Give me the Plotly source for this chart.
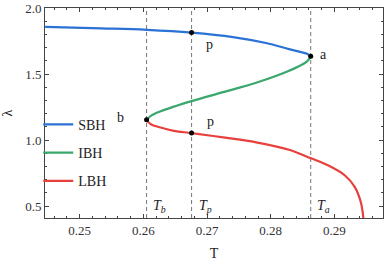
import plotly.graph_objects as go

# ---- data ----
sbh_T = [0.24457, 0.25341, 0.26054, 0.26757, 0.27408, 0.27926, 0.28287, 0.28493, 0.28571, 0.28628]
sbh_L = [1.857, 1.846, 1.835, 1.814, 1.780, 1.735, 1.689, 1.664, 1.654, 1.634]

ibh_T = [0.26050, 0.26116, 0.26220, 0.26478, 0.26757, 0.27253, 0.27771, 0.28183, 0.28442, 0.28571, 0.28628]
ibh_L = [1.153, 1.183, 1.208, 1.253, 1.295, 1.363, 1.434, 1.504, 1.559, 1.596, 1.634]

lbh_T = [0.26050, 0.26116, 0.26271, 0.26478, 0.26757, 0.27253, 0.27771, 0.28287, 0.28633,
         0.28907, 0.29166, 0.29321, 0.29414, 0.29457]
lbh_L = [1.153, 1.120, 1.095, 1.070, 1.053, 1.020, 0.983, 0.927, 0.862,
         0.807, 0.732, 0.644, 0.531, 0.400]

marker_T = [0.28628, 0.26050, 0.26757, 0.26757]
marker_L = [1.634, 1.153, 1.814, 1.053]
marker_names = ["a", "b", "p", "p"]

critical_T = [0.26050, 0.26757, 0.28628]
critical_names = ["<i>T</i><sub><i>b</i></sub>", "<i>T</i><sub><i>p</i></sub>", "<i>T</i><sub><i>a</i></sub>"]

x_range = [0.24455, 0.29763]
y_range = [0.41, 2.0]

BLUE = "#2a72d4"
GREEN = "#3aa86c"
RED = "#e8403c"
FONT = "Liberation Serif, Times New Roman, Times, serif"

fig = go.Figure()
fig.add_trace(go.Scatter(x=sbh_T, y=sbh_L, mode="lines", name="SBH", legendgroup="s",
                         line=dict(color=BLUE, width=2.2, shape="spline", smoothing=1.0)))
fig.add_trace(go.Scatter(x=ibh_T, y=ibh_L, mode="lines", name="IBH", legendgroup="i",
                         line=dict(color=GREEN, width=2.2, shape="spline", smoothing=1.0)))
fig.add_trace(go.Scatter(x=lbh_T, y=lbh_L, mode="lines", name="LBH", legendgroup="l",
                         line=dict(color=RED, width=2.2, shape="spline", smoothing=1.0)))
fig.add_trace(go.Scatter(x=marker_T, y=marker_L, mode="markers", showlegend=False,
                         marker=dict(color="black", size=5)))

for t in critical_T:
    fig.add_shape(type="line", xref="x", yref="paper", x0=t, x1=t, y0=0, y1=1,
                  line=dict(color="#777777", width=1, dash="4px,3px"), layer="below")

# point labels
label_pos = [(0.28829, 1.647), (0.25636, 1.173), (0.27031, 1.722), (0.27047, 1.143)]
for name, (lx, ly) in zip(marker_names, label_pos):
    fig.add_annotation(x=lx, y=ly, text=name, showarrow=False,
                       font=dict(family=FONT, size=14, color="#222"))

crit_label_x = [0.26256, 0.26969, 0.28829]
for name, lx in zip(critical_names, crit_label_x):
    fig.add_annotation(x=lx, y=0.50, text=name, showarrow=False,
                       font=dict(family=FONT, size=14, color="#222"))

axis_common = dict(showline=True, linecolor="#444", linewidth=1, mirror="allticks",
                   ticks="inside", ticklen=4, tickcolor="#444", showgrid=False, zeroline=False,
                   tickfont=dict(family=FONT, size=13, color="#333"))

fig.update_xaxes(range=x_range, dtick=0.01, tick0=0.25, tickformat=".2f",
                 minor=dict(ticks="inside", dtick=0.002, ticklen=2, tickcolor="#444"),
                 title=dict(text="T", font=dict(family=FONT, size=14, color="#222"), standoff=12),
                 **axis_common)
fig.update_yaxes(range=y_range, dtick=0.5, tick0=0.5, tickformat=".1f",
                 minor=dict(ticks="inside", dtick=0.1, ticklen=2, tickcolor="#444"),
                 title=dict(text="λ", font=dict(family=FONT, size=14, color="#222"), standoff=14),
                 **axis_common)

fig.update_layout(
    width=385, height=261,
    margin=dict(l=43, r=1, t=8, b=43),
    paper_bgcolor="white", plot_bgcolor="white",
    showlegend=True,
    legend=dict(x=-0.02, y=0.52, xanchor="left", yanchor="top", bgcolor="rgba(0,0,0,0)",
                font=dict(family=FONT, size=14, color="#222"), tracegroupgap=7),
)

fig.write_html("out.html", config={"displayModeBar": False},
               post_script="document.body.style.margin='0';")
